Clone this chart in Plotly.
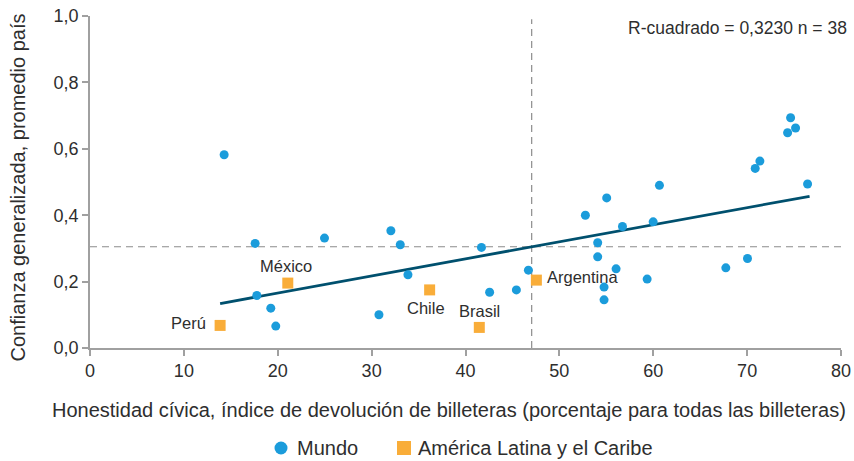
import plotly.graph_objects as go

# Data
mundo_x = [14.29, 17.59, 24.98, 32.05, 33.05, 33.87, 17.77, 19.26, 19.79, 30.78,
           41.7, 46.70, 42.57, 45.42, 52.77, 55.04, 60.66, 76.44, 56.72, 59.99,
           54.08, 54.08, 56.04, 54.76, 54.76, 59.35, 67.73, 70.04, 74.63, 75.16,
           74.31, 71.36, 70.86]
mundo_y = [0.582, 0.315, 0.331, 0.353, 0.311, 0.2205, 0.158, 0.120, 0.066, 0.100,
           0.303, 0.2345, 0.168, 0.175, 0.400, 0.452, 0.490, 0.494, 0.366, 0.380,
           0.317, 0.2746, 0.2385, 0.1835, 0.145, 0.2075, 0.2415, 0.2695, 0.6935, 0.6625,
           0.6485, 0.563, 0.541]

lac_names = ["Perú", "México", "Chile", "Brasil", "Argentina"]
lac_x = [13.86, 21.07, 36.18, 41.47, 47.55]
lac_y = [0.068, 0.1955, 0.175, 0.062, 0.2045]

trend_x = [13.86, 76.65]
trend_y = [0.134, 0.457]

mean_x = 47.05
mean_y = 0.305

x_ticks = [0, 10, 20, 30, 40, 50, 60, 70, 80]
y_ticks = [0.0, 0.2, 0.4, 0.6, 0.8, 1.0]

series_names = ["Mundo", "América Latina y el Caribe"]

FONT = "Liberation Sans, Arial, sans-serif"
TXT = "#2e2e2e"
BLUE = "#1b9cdb"
ORANGE = "#f9ad39"
LINE = "#00506e"
AX = "#a0a0a0"
DASH = "#8c8c8c"

W, H = 854, 461
ML, MR, MT, MB = 90, 13, 16, 113
PW, PH = W - ML - MR, H - MT - MB


def px_to_paper_x(px):
    return (px - ML) / PW


def px_to_paper_y(py):
    return (H - MB - py) / PH


fig = go.Figure()

fig.add_shape(type="line", x0=0, x1=80, y0=mean_y, y1=mean_y, xref="x", yref="y",
              line=dict(color=DASH, width=1.2, dash="7px,5px"), layer="below")
fig.add_shape(type="line", x0=mean_x, x1=mean_x, y0=0, y1=0.99, xref="x", yref="y",
              line=dict(color=DASH, width=1.2, dash="7px,5px"), layer="below")

fig.add_trace(go.Scatter(x=trend_x, y=trend_y, mode="lines",
                         line=dict(color=LINE, width=2.8), showlegend=False,
                         hoverinfo="skip"))
fig.add_trace(go.Scatter(x=mundo_x, y=mundo_y, mode="markers", name=series_names[0],
                         marker=dict(color=BLUE, size=9, symbol="circle"),
                         showlegend=False))
fig.add_trace(go.Scatter(x=lac_x, y=lac_y, mode="markers", name=series_names[1],
                         marker=dict(color=ORANGE, size=11, symbol="square"),
                         showlegend=False))

# labels for LAC countries
label_pos = {
    "Perú": (12.55, 0.074, "right"),
    "México": (20.87, 0.2475, "center"),
    "Chile": (35.8, 0.119, "center"),
    "Brasil": (41.5, 0.112, "center"),
    "Argentina": (48.5, 0.215, "left"),
}
for name in lac_names:
    lx, ly, anc = label_pos[name]
    fig.add_annotation(x=lx, y=ly, xref="x", yref="y", text=name, showarrow=False,
                       xanchor=anc, yanchor="middle",
                       font=dict(family=FONT, size=16.5, color=TXT))

fig.add_annotation(x=px_to_paper_x(849), y=px_to_paper_y(28), xref="paper", yref="paper",
                   text="R-cuadrado = 0,3230 n = 38", showarrow=False,
                   xanchor="right", yanchor="middle",
                   font=dict(family=FONT, size=17.5, color=TXT))

# axis titles
fig.add_annotation(x=px_to_paper_x(449), y=px_to_paper_y(410), xref="paper", yref="paper",
                   text="Honestidad cívica, índice de devolución de billeteras (porcentaje para todas las billeteras)",
                   showarrow=False, xanchor="center", yanchor="middle",
                   font=dict(family=FONT, size=20, color=TXT))
fig.add_annotation(x=px_to_paper_x(17.5), y=px_to_paper_y(188), xref="paper", yref="paper",
                   text="Confianza generalizada, promedio país", textangle=-90,
                   showarrow=False, xanchor="center", yanchor="middle",
                   font=dict(family=FONT, size=20, color=TXT))

# legend (drawn in the bottom margin)
leg_y = px_to_paper_y(448)
fig.add_shape(type="circle", xref="paper", yref="paper", xsizemode="pixel",
              ysizemode="pixel", xanchor=px_to_paper_x(281), yanchor=leg_y,
              x0=-6.5, x1=6.5, y0=-6.5, y1=6.5, fillcolor=BLUE, line=dict(width=0))
fig.add_annotation(x=px_to_paper_x(295), y=leg_y, xref="paper", yref="paper",
                   text=series_names[0], showarrow=False, xanchor="left",
                   yanchor="middle", font=dict(family=FONT, size=20, color=TXT))
fig.add_shape(type="rect", xref="paper", yref="paper", xsizemode="pixel",
              ysizemode="pixel", xanchor=px_to_paper_x(404), yanchor=leg_y,
              x0=-7, x1=7, y0=-7, y1=7, fillcolor=ORANGE, line=dict(width=0))
fig.add_annotation(x=px_to_paper_x(416), y=leg_y, xref="paper", yref="paper",
                   text=series_names[1], showarrow=False, xanchor="left",
                   yanchor="middle", font=dict(family=FONT, size=20, color=TXT))

fig.update_layout(
    width=W, height=H,
    margin=dict(l=ML, r=MR, t=MT, b=MB),
    paper_bgcolor="white", plot_bgcolor="white",
    separators=",.",
    showlegend=False,
    font=dict(family=FONT, size=18, color=TXT),
    xaxis=dict(range=[0, 80], tickvals=x_ticks, showgrid=False, zeroline=False,
               showline=True, linecolor=AX, linewidth=1.5, ticks="outside",
               ticklen=6, tickcolor=AX, tickwidth=1.5, automargin=False,
               tickfont=dict(family=FONT, size=18, color=TXT)),
    yaxis=dict(range=[0, 1.0], tickvals=y_ticks, tickformat=".1f", showgrid=False,
               zeroline=False, showline=True, linecolor=AX, linewidth=1.5,
               ticks="outside", ticklen=6, tickcolor=AX, tickwidth=1.5,
               automargin=False,
               tickfont=dict(family=FONT, size=18, color=TXT)),
)

fig.write_html("out.html", config={"displayModeBar": False},
               post_script="document.body.style.margin='0';")
